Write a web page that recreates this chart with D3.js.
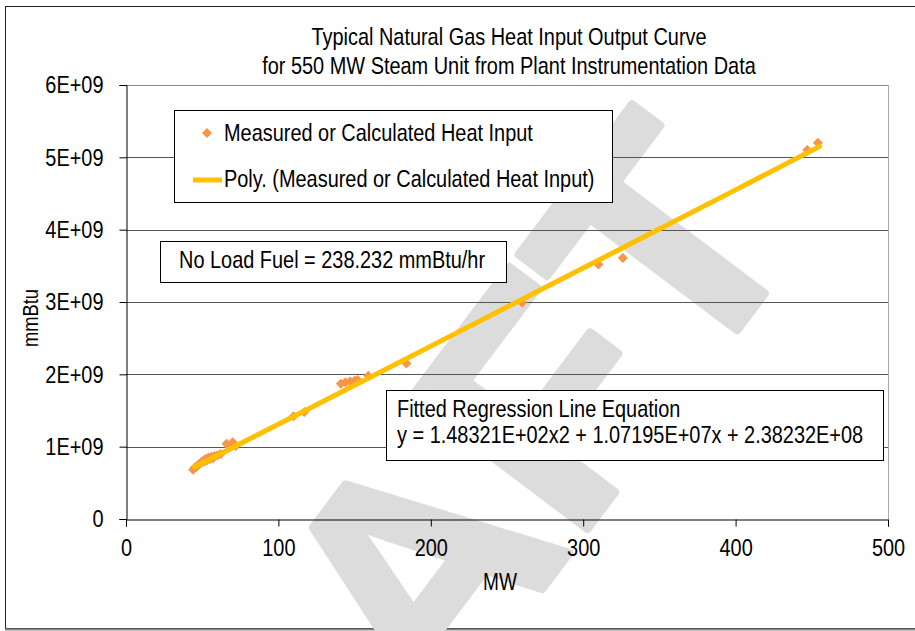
<!DOCTYPE html>
<html>
<head>
<meta charset="utf-8">
<script src="https://cdn.jsdelivr.net/npm/d3@7"></script>
<style>
  body { margin: 0; background: #fff; }
  svg text { font-family: "Liberation Sans", Arial, sans-serif; fill: #000; }
</style>
</head>
<body>
<div id="chart"></div>
<script>
// Chart size and plot area
const W = 915, H = 631;
const margin = { top: 85, right: 27, bottom: 112, left: 126 },
    width = W - margin.left - margin.right,
    height = H - margin.top - margin.bottom;

// Measured points (MW, mmBtu)
const mw = [44, 45, 46, 47, 48, 49, 50, 51, 52, 53, 54, 55, 56, 57, 58, 60, 62,
    66, 68, 70, 72, 110, 117, 141, 144, 147, 150, 152, 159, 184, 260, 310, 326, 447, 454];
const heat = [0.68e9, 0.71e9, 0.72e9, 0.74e9, 0.76e9, 0.77e9, 0.80e9, 0.79e9, 0.83e9, 0.81e9, 0.85e9, 0.83e9, 0.86e9, 0.84e9, 0.87e9, 0.88e9, 0.90e9,
    1.04e9, 0.99e9, 1.06e9, 1.01e9, 1.42e9, 1.48e9, 1.87e9, 1.89e9, 1.90e9, 1.91e9, 1.92e9, 1.98e9, 2.15e9, 2.99e9, 3.52e9, 3.61e9, 5.10e9, 5.20e9];

// Poly trendline
const trendMW = [45, 100, 200, 300, 400, 455];
const trendHeat = [0.72e9, 1.31e9, 2.39e9, 3.47e9, 4.55e9, 5.15e9];

// Axis ticks
const xTicks = [0, 100, 200, 300, 400, 500];
const yTicks = [0, 1e9, 2e9, 3e9, 4e9, 5e9, 6e9];
const yTickLabels = ["0", "1E+09", "2E+09", "3E+09", "4E+09", "5E+09", "6E+09"];

const titleLines = ["Typical Natural Gas Heat Input Output Curve",
    "for 550 MW Steam Unit from Plant Instrumentation Data"];
const legendLabels = ["Measured or Calculated Heat Input", "Poly. (Measured or Calculated Heat Input)"];
const noLoadText = "No Load Fuel = 238.232 mmBtu/hr";
const eqLines = ["Fitted Regression Line Equation", "y = 1.48321E+02x2 + 1.07195E+07x + 2.38232E+08"];

const markerColor = "#F79646", lineColor = "#FFC000";

// squeeze text horizontally around its anchor (narrow font look)
function narrow(sel, s = 0.83) {
    sel.each(function () {
        const t = d3.select(this);
        const x0 = +t.attr("x") || 0;
        const tr = t.attr("transform") || "";
        t.attr("transform", `${tr} translate(${x0},0) scale(${s},1) translate(${-x0},0)`);
    });
}

const svg = d3.select("#chart").append("svg")
    .attr("width", W)
    .attr("height", H);

// Outer chart border
svg.append("rect")
    .attr("x", 5.5).attr("y", 6.5)
    .attr("width", W + 10).attr("height", 622)
    .attr("fill", "none").attr("stroke", "#222");
svg.append("line")
    .attr("x1", 5).attr("x2", W).attr("y1", 629.5).attr("y2", 629.5)
    .attr("stroke", "#888").attr("stroke-width", 2);

// DRAFT watermark
svg.append("text")
    .attr("transform", "translate(395,600) rotate(-53)")
    .attr("text-anchor", "middle")
    .attr("dominant-baseline", "central")
    .style("font-weight", "bold")
    .style("font-size", "320px")
    .style("fill", "#dcdcdc")
    .style("stroke", "#dcdcdc")
    .style("stroke-width", 8)
    .style("stroke-linejoin", "round")
    .text("DRAFT");

const g = svg.append("g")
    .attr("transform", `translate(${margin.left},${margin.top})`);

const x = d3.scaleLinear().domain([0, 500]).range([0, width]);
const y = d3.scaleLinear().domain([0, 6e9]).range([height, 0]);

// Gridlines
g.selectAll(".grid")
    .data(yTicks.slice(1))
    .join("line")
    .attr("class", "grid")
    .attr("x1", 0).attr("x2", width)
    .attr("y1", d => Math.round(y(d)) + 0.5).attr("y2", d => Math.round(y(d)) + 0.5)
    .attr("stroke", d => d === 6e9 ? "#888" : "#555");
g.append("line")
    .attr("x1", width + 0.5).attr("x2", width + 0.5)
    .attr("y1", 0).attr("y2", height)
    .attr("stroke", "#aaa");

// Axes
const xAxis = g.append("g")
    .attr("transform", `translate(0,${height + 0.5})`)
    .call(d3.axisBottom(x).tickValues(xTicks).tickSizeOuter(0).tickSize(7).tickPadding(12));
const yAxis = g.append("g")
    .attr("transform", "translate(0.5,0)")
    .call(d3.axisLeft(y).tickValues(yTicks).tickFormat((d, i) => yTickLabels[i])
        .tickSizeOuter(0).tickSize(7).tickPadding(16));
[xAxis, yAxis].forEach(a => {
    a.selectAll("path, line").attr("stroke", "#000");
    a.selectAll("text").style("font-size", "24px").attr("fill", "#000")
        .style("font-family", "'Liberation Sans', Arial, sans-serif");
    narrow(a.selectAll("text"));
});

// Markers
const pts = mw.map((d, i) => ({ x: d, y: heat[i] }));
g.selectAll(".pt")
    .data(pts)
    .join("path")
    .attr("class", "pt")
    .attr("d", d => {
        const cx = x(d.x), cy = y(d.y), r = 5;
        return `M${cx},${cy - r}L${cx + r},${cy}L${cx},${cy + r}L${cx - r},${cy}Z`;
    })
    .attr("fill", markerColor);

// Trendline
const trend = trendMW.map((d, i) => ({ x: d, y: trendHeat[i] }));
g.append("path")
    .datum(trend)
    .attr("fill", "none")
    .attr("stroke", lineColor)
    .attr("stroke-width", 5)
    .attr("stroke-linecap", "round")
    .attr("d", d3.line().x(d => x(d.x)).y(d => y(d.y)).curve(d3.curveMonotoneX));

// Title
svg.selectAll(".title")
    .data(titleLines)
    .join("text")
    .attr("class", "title")
    .attr("x", 509)
    .attr("y", (d, i) => 45 + i * 29)
    .attr("text-anchor", "middle")
    .style("font-size", "24px")
    .text(d => d)
    .call(narrow);

// Axis titles
svg.append("text")
    .attr("transform", "translate(38,318) rotate(-90)")
    .attr("text-anchor", "middle")
    .style("font-size", "22px")
    .text("mmBtu")
    .call(narrow);
svg.append("text")
    .attr("x", 500).attr("y", 590)
    .attr("text-anchor", "middle")
    .style("font-size", "23px")
    .text("MW")
    .call(narrow);

// Legend box
const legend = svg.append("g");
legend.append("rect")
    .attr("x", 174.5).attr("y", 110.5).attr("width", 438).attr("height", 92)
    .attr("fill", "#fff").attr("stroke", "#000");
legend.append("path")
    .attr("d", "M207,128L212,133L207,138L202,133Z")
    .attr("fill", markerColor);
legend.append("line")
    .attr("x1", 193).attr("x2", 222).attr("y1", 180).attr("y2", 180)
    .attr("stroke", lineColor).attr("stroke-width", 5);
legend.selectAll(".lt")
    .data(legendLabels)
    .join("text")
    .attr("class", "lt")
    .attr("x", 224)
    .attr("y", (d, i) => 141 + i * 46)
    .style("font-size", "24px")
    .text(d => d)
    .call(narrow);

// No load fuel box
svg.append("rect")
    .attr("x", 160.5).attr("y", 241.5).attr("width", 346).attr("height", 41)
    .attr("fill", "#fff").attr("stroke", "#000");
svg.append("text")
    .attr("x", 179).attr("y", 268)
    .style("font-size", "24px")
    .text(noLoadText)
    .call(narrow);

// Regression equation box
svg.append("rect")
    .attr("x", 386.5).attr("y", 390.5).attr("width", 497).attr("height", 70)
    .attr("fill", "#fff").attr("stroke", "#000");
svg.selectAll(".eq")
    .data(eqLines)
    .join("text")
    .attr("class", "eq")
    .attr("x", 397)
    .attr("y", (d, i) => 417 + i * 26)
    .style("font-size", "24px")
    .text(d => d)
    .call(narrow);
</script>
</body>
</html>
